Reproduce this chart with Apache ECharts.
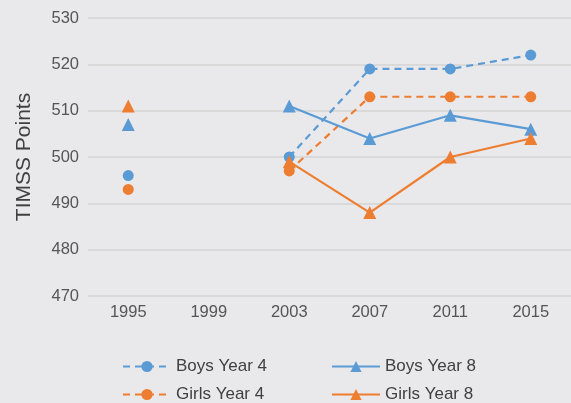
<!DOCTYPE html>
<html>
<head>
<meta charset="UTF-8">
<style>
  html, body { margin: 0; padding: 0; background: #e9e9eb; }
  #chart { width: 571px; height: 403px; }
</style>
<script src="https://cdn.jsdelivr.net/npm/echarts@6/dist/echarts.min.js"></script>
</head>
<body>
<div id="chart"></div>
<script>
  var years = ['1995', '1999', '2003', '2007', '2011', '2015'];
  var boysYear4 = [496, null, 500, 519, 519, 522];
  var girlsYear4 = [493, null, 497, 513, 513, 513];
  var boysYear8 = [507, null, 511, 504, 509, 506];
  var girlsYear8 = [511, null, 499, 488, 500, 504];

  var blue = '#5b9bd5';
  var orange = '#ed7d31';

  function line(name, data, color, dashed, symbol) {
    return {
      name: name,
      type: 'line',
      data: data,
      connectNulls: false,
      symbol: symbol,
      symbolSize: symbol === 'triangle' ? 13 : 11,
      itemStyle: { color: color },
      lineStyle: { color: color, width: 2.2, type: dashed ? [7, 5] : 'solid' }
    };
  }

  function legendItem(name, left, top) {
    return {
      data: [name],
      left: left, top: top,
      itemWidth: 48, itemHeight: 14,
      textStyle: { fontSize: 17, color: '#404040' }
    };
  }

  var chart = echarts.init(document.getElementById('chart'));
  chart.setOption({
    backgroundColor: '#e9e9eb',
    animation: false,
    textStyle: { fontFamily: 'Liberation Sans, Arial, sans-serif' },
    grid: { left: 88, top: 18, width: 486, height: 278, containLabel: false },
    legend: [
      legendItem('Boys Year 4', 117, 353),
      legendItem('Girls Year 4', 117, 381),
      legendItem('Boys Year 8', 326, 353),
      legendItem('Girls Year 8', 326, 381)
    ],
    xAxis: {
      type: 'category',
      data: years,
      boundaryGap: true,
      axisLine: { show: false },
      axisTick: { show: false },
      axisLabel: { fontSize: 16.5, color: '#555555', margin: 8 }
    },
    yAxis: {
      type: 'value',
      min: 470, max: 530, interval: 10,
      name: 'TIMSS Points',
      nameLocation: 'middle',
      nameGap: 53,
      nameTextStyle: { fontSize: 21, color: '#404040' },
      axisLine: { show: false },
      axisTick: { show: false },
      axisLabel: { fontSize: 16.5, color: '#555555', margin: 9 },
      splitLine: { lineStyle: { color: '#d9d9d9', width: 2 } }
    },
    series: [
      line('Boys Year 4', boysYear4, blue, true, 'circle'),
      line('Girls Year 4', girlsYear4, orange, true, 'circle'),
      line('Boys Year 8', boysYear8, blue, false, 'triangle'),
      line('Girls Year 8', girlsYear8, orange, false, 'triangle')
    ]
  });
</script>
</body>
</html>
